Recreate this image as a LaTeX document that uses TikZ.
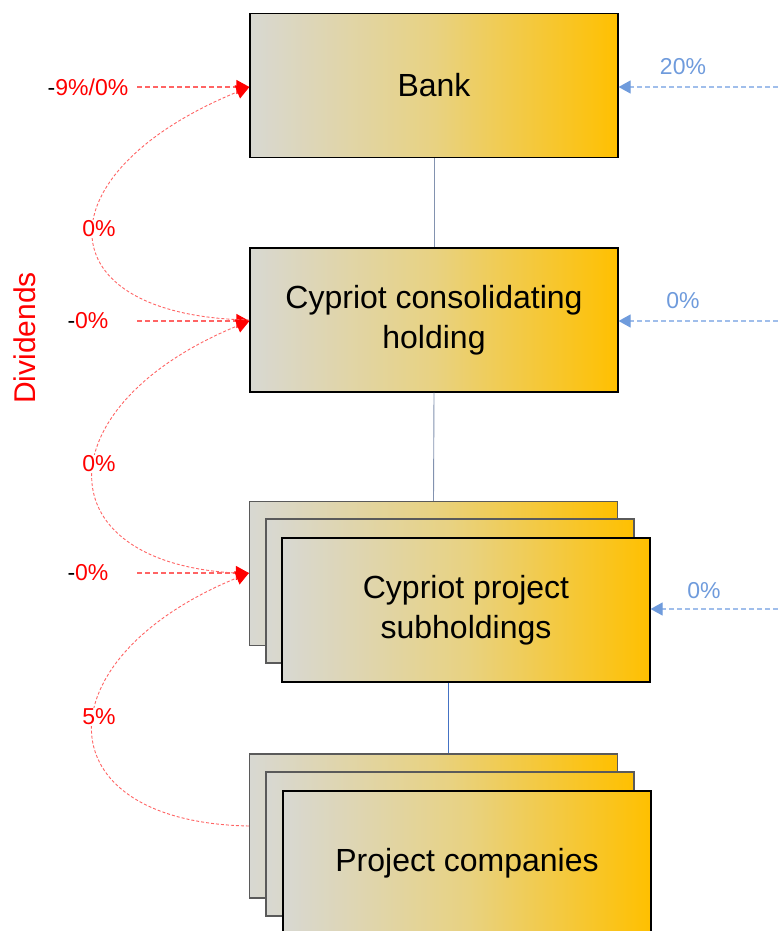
\documentclass[tikz,border=0pt]{standalone}
\usepackage{fontspec}
\setmainfont{Liberation Sans}
\usetikzlibrary{arrows.meta}
\definecolor{boxgray}{RGB}{216,216,210}
\definecolor{boxmid}{RGB}{232,210,130}
\definecolor{boxgold}{RGB}{255,192,0}
\definecolor{divred}{RGB}{255,0,0}
\definecolor{lightred}{RGB}{255,100,100}
\definecolor{blueA}{RGB}{111,155,220}
\definecolor{blueL}{RGB}{160,190,235}
\definecolor{linegray}{RGB}{130,146,175}
\definecolor{lineblue}{RGB}{68,114,196}
\definecolor{backedge}{RGB}{90,90,90}
\begin{document}
\begin{tikzpicture}[x=1pt,y=-1pt,
  entity/.style={draw=#1, line width=1.2pt, left color=boxgray, right color=boxgold, middle color=boxmid,
    minimum width=368pt, minimum height=144pt, inner sep=0pt, align=center,
    font=\fontsize{32}{40}\selectfont},
  entity/.default=black,
  vline/.style={draw=linegray, line width=0.9pt},
  vlineb/.style={draw=lineblue, line width=0.9pt},
  redarrow/.style={draw=lightred, line width=1.2pt, dash pattern=on 5pt off 3pt,
    -{Triangle[length=13pt,width=14pt,color=divred]}},
  redcurve/.style={draw=lightred, line width=0.9pt, dash pattern=on 3pt off 2pt},
  bluearrow/.style={draw=blueL, line width=1.2pt, dash pattern=on 5pt off 3pt,
    -{Triangle[length=12pt,width=13pt,color=blueA]}},
  redlbl/.style={text=divred, inner sep=1pt, font=\fontsize{23}{26}\selectfont},
  bluelbl/.style={text=blueA, inner sep=1pt, font=\fontsize{23}{26}\selectfont},
]
\useasboundingbox (0,0) rectangle (778,931);
\clip (0,0) rectangle (778,931);

% boxes
\node[entity] (bank) at (434,85.5) {Bank};
\node[entity] (hold) at (434,320) {Cypriot consolidating\\holding};
\node[entity=backedge] (sub1) at (433.5,573.5) {};
\node[entity=backedge] (sub2) at (450,591) {};
\node[entity] (sub3) at (466,610) {Cypriot project\\subholdings};
\node[entity=backedge] (pc1) at (433.5,826) {};
\node[entity=backedge] (pc2) at (450,844) {};
\node[entity] (pc3) at (467,863) {Project companies};

% vertical connectors
\draw[vline] (bank.south) -- (hold.north);
\draw[vline] (hold.south) -- (sub1.north);
\draw[vlineb] ([xshift=-18pt]sub3.south) -- ([xshift=-18pt]sub3.south |- pc1.north);

% left dividend labels and arrows
\node[redlbl] (l1) at (88,87) {\textcolor{black}{-}9\%/0\%};
\node[redlbl] (l2) at (88,321) {\textcolor{black}{-}0\%};
\node[redlbl] (l3) at (88,573) {\textcolor{black}{-}0\%};
\coordinate (s1) at (137,87);
\coordinate (s2) at (137,321);
\coordinate (s3) at (137,573);
\draw[redarrow] (s1) -- (s1 -| bank.west);
\draw[redarrow] (s2) -- (s2 -| hold.west);
\draw[redarrow] (s3) -- (s3 -| sub1.west);

% curved dividend flows
\draw[redcurve, -{Triangle[length=13pt,width=14pt,color=divred]}]
  (hold.west) .. controls +(-208,-4) and +(-208,85) .. (s1 -| bank.west);
\draw[redcurve, -{Triangle[length=13pt,width=14pt,color=divred]}]
  (sub1.west) .. controls +(-208,-4) and +(-208,85) .. (s2 -| hold.west);
\draw[redcurve, -{Triangle[length=13pt,width=14pt,color=divred]}]
  (pc1.west) .. controls +(-208,-4) and +(-208,85) .. (s3 -| sub1.west);
\node[redlbl, fill=white] (c1) at (99,229) {0\%};
\node[redlbl, fill=white] (c2) at (99,464) {0\%};
\node[redlbl, fill=white] (c3) at (99,717) {5\%};

\node[rotate=90, text=divred, font=\fontsize{30}{36}\selectfont] (div) at (25,338) {Dividends};

% right side (blue) arrows
\coordinate (r1) at (778,87);
\coordinate (r2) at (778,321);
\coordinate (r3) at (778,609);
\draw[bluearrow] (r1) -- (r1 -| bank.east);
\draw[bluearrow] (r2) -- (r2 -| hold.east);
\draw[bluearrow] (r3) -- (r3 -| sub3.east);
\node[bluelbl] (b1) at (683,67) {20\%};
\node[bluelbl] (b2) at (683,301) {0\%};
\node[bluelbl] (b3) at (704,591) {0\%};
\end{tikzpicture}
\end{document}
